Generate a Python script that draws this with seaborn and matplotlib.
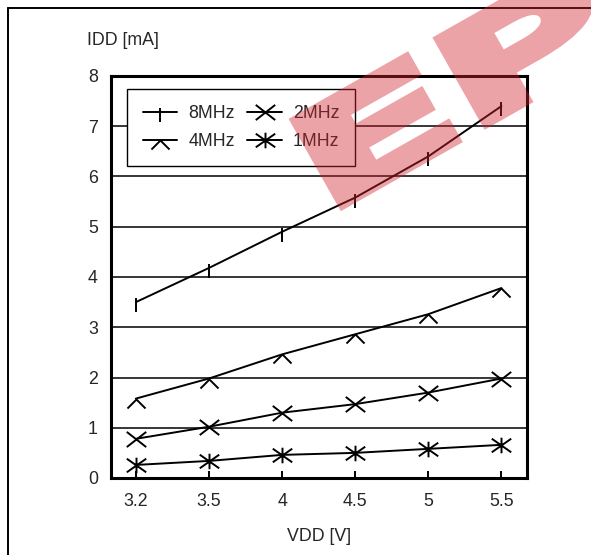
import numpy as np
import pandas as pd
import matplotlib
matplotlib.use("Agg")
import matplotlib.pyplot as plt
from matplotlib.path import Path
from matplotlib.lines import Line2D
from matplotlib.patches import PathPatch
from matplotlib.textpath import TextPath
from matplotlib.font_manager import FontProperties
from matplotlib.transforms import Affine2D
import seaborn as sns

# 数据
vdd = ["3.2", "3.5", "4", "4.5", "5", "5.5"]
idd_8mhz = [3.5, 4.18, 4.9, 5.58, 6.4, 7.4]
idd_4mhz = [1.58, 1.98, 2.46, 2.86, 3.26, 3.78]
idd_2mhz = [0.78, 1.02, 1.3, 1.47, 1.7, 1.98]
idd_1mhz = [0.26, 0.34, 0.46, 0.5, 0.58, 0.66]
series_names = ["8MHz", "4MHz", "2MHz", "1MHz"]
y_ticks = [0, 1, 2, 3, 4, 5, 6, 7, 8]

sns.set_theme(style="white")
plt.rcParams["font.family"] = ["Liberation Sans", "DejaVu Sans"]
FS = 12.8

# custom line markers
mk_bar = Path([(0, 0.4), (0, -1)], [Path.MOVETO, Path.LINETO])
mk_fork = Path([(0, 0), (-1, -1), (0, 0), (1, -1)],
               [Path.MOVETO, Path.LINETO, Path.MOVETO, Path.LINETO])
mk_x = Path([(-1, -0.78), (1, 0.78), (-1, 0.78), (1, -0.78)],
            [Path.MOVETO, Path.LINETO, Path.MOVETO, Path.LINETO])
mk_star = Path([(-1, -0.7), (1, 0.7), (-1, 0.7), (1, -0.7), (0, -0.8), (0, 0.8)],
               [Path.MOVETO, Path.LINETO, Path.MOVETO, Path.LINETO, Path.MOVETO, Path.LINETO])
markers = [mk_bar, mk_fork, mk_x, mk_star]
sizes = [14, 13, 14, 14]

df = pd.DataFrame({"vdd": vdd * 4,
                   "idd": idd_8mhz + idd_4mhz + idd_2mhz + idd_1mhz,
                   "freq": np.repeat(series_names, len(vdd))})

fig = plt.figure(figsize=(5.91, 5.55), dpi=100)
ax = fig.add_axes([111 / 591, 1 - 478 / 555, 416 / 591, 402 / 555])

for name, m, s in zip(series_names, markers, sizes):
    sub = df[df["freq"] == name]
    sns.lineplot(data=sub, x="vdd", y="idd", sort=False, ax=ax, color="black",
                 linewidth=1.4, marker=m, markersize=s, markeredgewidth=1.4,
                 markeredgecolor="black", markerfacecolor="none", label=name)

ax.set_ylim(0, 8)
ax.set_xlim(-0.34, 5.35)
ax.set_yticks(y_ticks)
ax.yaxis.grid(True, color="black", linewidth=1.1)
ax.xaxis.grid(False)
for sp in ax.spines.values():
    sp.set_color("black")
    sp.set_linewidth(2.2)
ax.tick_params(axis="x", direction="in", length=5, width=1.4, color="black",
               labelsize=FS, pad=10.5, bottom=True)
ax.tick_params(axis="y", length=0, labelsize=FS, pad=9.5)

ax.set_xlabel("VDD [V]", fontsize=FS, labelpad=13)
ax.set_ylabel("IDD [mA]", fontsize=FS, rotation=0, ha="left", va="center")
ax.yaxis.set_label_coords((87 - 111) / 416, 1 + (76 - 41) / 402)

leg = ax.legend(ncol=2, loc="upper left", bbox_to_anchor=(0.038, 0.968),
                borderaxespad=0, fontsize=FS, frameon=True, fancybox=False,
                handlelength=1.95, handletextpad=0.6, columnspacing=0.72,
                labelspacing=0.62, borderpad=0.9)
leg.get_frame().set_edgecolor("black")
leg.get_frame().set_linewidth(1.0)
leg.get_frame().set_alpha(1)

# outer frame (top and left only)
fig.add_artist(Line2D([8 / 591, 8 / 591], [0, 1 - 8 / 555], color="black",
                      linewidth=1.4, transform=fig.transFigure))
fig.add_artist(Line2D([8 / 591, 1], [1 - 8 / 555, 1 - 8 / 555], color="black",
                      linewidth=1.4, transform=fig.transFigure))

# watermark logo: wide heavy letters, rotated, semi-transparent
sx = 1.9
prop = FontProperties(family="DejaVu Sans", weight="bold")
pieces = []
pos = 0.0
for ch in "EPSON":
    tp = TextPath((0, 0), ch, size=134, prop=prop)
    v = tp.vertices.copy()
    x0, x1 = v[:, 0].min(), v[:, 0].max()
    v[:, 0] += pos - x0
    pieces.append(Path(v, tp.codes))
    pos += (x1 - x0) + 10 / sx
logo = Path.make_compound_path(*pieces)
logo_tf = Affine2D().scale(sx, 1.0).rotate_deg(29.5).translate(322, 555 - 217)
wm = PathPatch(logo, transform=logo_tf, facecolor=(0.82, 0.14, 0.18),
               edgecolor=(0.82, 0.14, 0.18), linewidth=6, joinstyle="miter", zorder=10)


def fade(img, dpi):
    img = img.copy()
    img[..., 3] *= 0.42
    return img, 0, 0


wm.set_agg_filter(fade)
fig.add_artist(wm)

fig.savefig("out.png", dpi=100)
